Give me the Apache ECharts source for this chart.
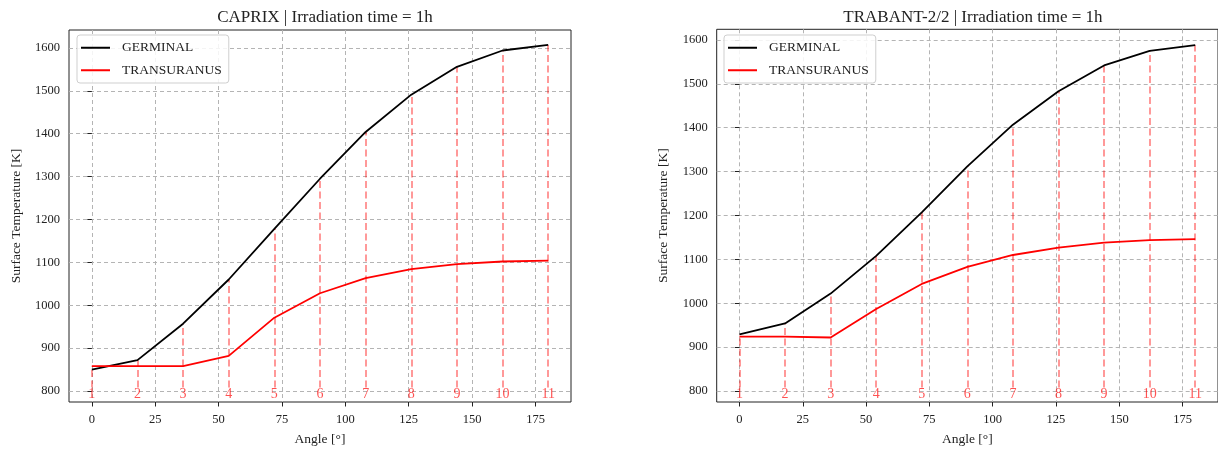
<!DOCTYPE html>
<html><head><meta charset="utf-8">
<script src="https://cdn.jsdelivr.net/npm/echarts@6/dist/echarts.min.js"></script>
<style>html,body{margin:0;padding:0;background:#fff}#c{width:1218px;height:451px}</style>
</head><body><div id="c"></div>
<script>
// ---- data ----
const angles = [0, 18, 36, 54, 72, 90, 108, 126, 144, 162, 180];
const pointLabels = ['1', '2', '3', '4', '5', '6', '7', '8', '9', '10', '11'];
const caprixGerminal = [850, 872, 957, 1060, 1178, 1295, 1404, 1491, 1556, 1594, 1607];
const caprixTransuranus = [858, 858, 858, 882, 971, 1028, 1063, 1084, 1096, 1102, 1104];
const trabantGerminal = [929, 954, 1022, 1108, 1207, 1312, 1407, 1483, 1542, 1575, 1588];
const trabantTransuranus = [924, 924, 922, 987, 1044, 1083, 1110, 1127, 1138, 1144, 1146];
const xTicks = [0, 25, 50, 75, 100, 125, 150, 175];
const yTicks = [800, 900, 1000, 1100, 1200, 1300, 1400, 1500, 1600];
const titles = ['CAPRIX | Irradiation time = 1h', 'TRABANT-2/2 | Irradiation time = 1h'];
const seriesNames = ['GERMINAL', 'TRANSURANUS'];
const xName = 'Angle [°]';
const yName = 'Surface Temperature [K]';

// ---- layout / style ----
const FONT = '"Liberation Serif", "DejaVu Serif", serif';
const TXT = '#222';
const VLINE_BASE = 808;
const panels = [
  { germ: caprixGerminal, trans: caprixTransuranus, grid: { left: 69, top: 30, width: 502, height: 373.3 }, yMin: 774.4, yMax: 1641.8, labelY: 793, legend: { left: 77, top: 35 } },
  { germ: trabantGerminal, trans: trabantTransuranus, grid: { left: 716.7, top: 29.3, width: 502.5, height: 374 }, yMin: 775, yMax: 1624.3, labelY: 793, legend: { left: 724, top: 35 } }
];

const option = { animation: false, backgroundColor: '#fff', title: [], legend: [], grid: [], xAxis: [], yAxis: [], series: [] };

panels.forEach((p, i) => {
  option.grid.push(Object.assign({ show: true, borderColor: '#222', borderWidth: 1, backgroundColor: 'transparent', containLabel: false }, p.grid));
  option.title.push({
    text: titles[i], left: p.grid.left + p.grid.width / 2, top: 4, textAlign: 'center',
    textStyle: { fontFamily: FONT, fontSize: 17, fontWeight: 'normal', color: TXT }
  });
  option.legend.push({
    data: seriesNames.map(n => ({ name: n, icon: 'rect' })), orient: 'vertical', left: p.legend.left, top: p.legend.top,
    itemWidth: 29, itemHeight: 2, itemGap: 7, padding: [5, 7, 5, 4],
    backgroundColor: 'rgba(255,255,255,0.85)', borderColor: '#cfcfcf', borderWidth: 1, borderRadius: 3,
    textStyle: { fontFamily: FONT, fontSize: 13.5, color: TXT, padding: [0, 0, 0, 7], lineHeight: 15.5 },
    selectedMode: false
  });
  option.xAxis.push({
    type: 'value', gridIndex: i, min: -9, max: 189,
    name: xName, nameLocation: 'middle', nameGap: 30,
    nameTextStyle: { fontFamily: FONT, fontSize: 13.5, color: TXT },
    axisLine: { show: false },
    axisTick: { show: true, inside: false, length: 4.5, lineStyle: { color: '#222' }, customValues: xTicks },
    axisLabel: { fontFamily: FONT, fontSize: 12.5, color: TXT, margin: 11, customValues: xTicks, formatter: v => String(v) },
    splitLine: { show: true, lineStyle: { color: '#b4b4b4', width: 1, type: [4, 3] } }
  });
  option.yAxis.push({
    type: 'value', gridIndex: i, min: p.yMin, max: p.yMax,
    name: yName, nameLocation: 'middle', nameGap: 46, nameRotate: 90,
    nameTextStyle: { fontFamily: FONT, fontSize: 13.5, color: TXT },
    axisLine: { show: false },
    axisTick: { show: true, inside: false, length: 4.5, lineStyle: { color: '#222' }, customValues: yTicks },
    axisLabel: { fontFamily: FONT, fontSize: 12.5, color: TXT, margin: 9, customValues: yTicks, formatter: v => String(v) },
    splitLine: { show: true, lineStyle: { color: '#b4b4b4', width: 1, type: [4, 3] } }
  });
  // vertical dashed markers at each point, up to the upper curve
  option.series.push({
    type: 'lines', coordinateSystem: 'cartesian2d', xAxisIndex: i, yAxisIndex: i,
    polyline: false, silent: true, z: 2,
    lineStyle: { color: 'rgba(255,0,0,0.5)', width: 1.6, type: [7, 3.5], opacity: 1, curveness: 0 },
    data: angles.map((a, k) => ({ coords: [[a, VLINE_BASE], [a, Math.max(p.germ[k], p.trans[k])]] }))
  });
  // point number labels
  option.series.push({
    type: 'scatter', xAxisIndex: i, yAxisIndex: i, silent: true, z: 6, clip: false,
    symbol: 'circle', symbolSize: 1, itemStyle: { color: 'rgba(255,255,255,0)' },
    label: { show: true, position: 'inside', formatter: (d) => pointLabels[d.dataIndex], fontFamily: FONT, fontSize: 14, color: 'rgba(255,0,0,0.85)', textBorderWidth: 0 },
    labelLayout: { hideOverlap: false },
    data: angles.map(a => [a, p.labelY])
  });
  option.series.push({
    name: seriesNames[0], type: 'line', xAxisIndex: i, yAxisIndex: i, symbol: 'none', z: 5,
    lineStyle: { color: '#000', width: 1.8 }, itemStyle: { color: '#000' },
    data: angles.map((a, k) => [a, p.germ[k]])
  });
  option.series.push({
    name: seriesNames[1], type: 'line', xAxisIndex: i, yAxisIndex: i, symbol: 'none', z: 5,
    lineStyle: { color: '#ff0000', width: 1.8 }, itemStyle: { color: '#ff0000' },
    data: angles.map((a, k) => [a, p.trans[k]])
  });
});

const chart = echarts.init(document.getElementById('c'), null, { renderer: 'canvas' });
chart.setOption(option);
</script></body></html>
